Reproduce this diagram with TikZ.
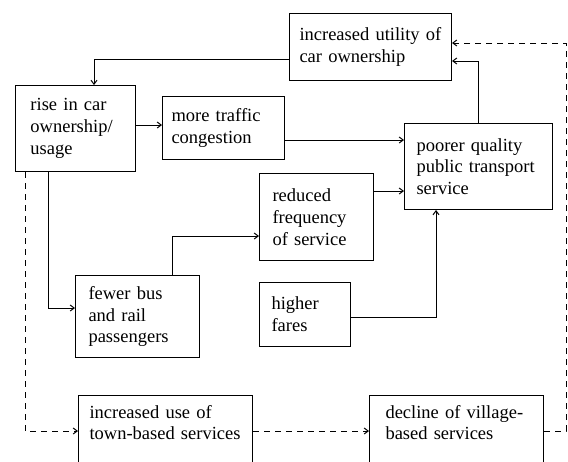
\documentclass[tikz,border=0pt]{standalone}
\usepackage{fontspec}
\setmainfont{Liberation Serif}
\usetikzlibrary{arrows.meta}

\begin{document}
\begin{tikzpicture}[x=1pt, y=-1pt,
  box/.style={draw, line width=1pt, rectangle, anchor=north west, align=left,
    inner ysep=0pt, font=\fontsize{18.5}{21.7}\selectfont},
  link/.style={-{Straight Barb[length=4pt,width=6pt]}, line width=1pt},
  weak/.style={link, dash pattern=on 6pt off 5pt}]
\useasboundingbox (0,0) rectangle (568,461);
\clip (0,0) rectangle (568,461);

% boxes: width = text width + 2 * inner xsep
\node[box, inner xsep=10, text width=142, minimum height=67] (util) at (289,13)
  {increased utility of\\car ownership};
\node[box, inner xsep=15, text width=90, minimum height=86] (rise) at (15,85)
  {rise in car\\ownership/\\usage};
\node[box, inner xsep=9, text width=104, minimum height=63] (traffic) at (162,96)
  {more traffic\\congestion};
\node[box, inner xsep=12, text width=124, minimum height=86] (poorer) at (404,123)
  {poorer quality\\public transport\\service};
\node[box, inner xsep=13, text width=88, minimum height=87] (reduced) at (259,173)
  {reduced\\frequency\\of service};
\node[box, inner xsep=12, text width=67, minimum height=64] (fares) at (259,282)
  {higher\\fares};
\node[box, inner xsep=13, text width=98, minimum height=82] (fewer) at (75,275)
  {fewer bus\\and rail\\passengers};
\node[box, inner xsep=11, text width=152, minimum height=82] (use) at (78,395)
  {increased use of\\town-based services\\\strut};
\node[box, inner xsep=16, text width=142, minimum height=82] (decline) at (369,395)
  {decline of village-\\based services\\\strut};

% solid links
\draw[link] (util.west |- 0,59) -| (rise.north -| 94,0);
\draw[link] (rise.east |- 0,125) -- (traffic.west |- 0,125);
\draw[link] (traffic.east |- 0,140) -- (poorer.west |- 0,140);
\draw[link] (reduced.east |- 0,191) -- (poorer.west |- 0,191);
\draw[link] (fares.east |- 0,317) -| (poorer.south -| 436,0);
\draw[link] (poorer.north -| 478,0) |- (util.east |- 0,61);
\draw[link] (rise.south -| 48,0) |- (fewer.west |- 0,308);
\draw[link] (fewer.north -| 172,0) |- (reduced.west |- 0,236);

% dashed links
\draw[weak] (rise.south -| 25,0) |- (use.west |- 0,431);
\draw[weak] (use.east |- 0,431) -- (decline.west |- 0,431);
\draw[weak] (decline.east |- 0,431) -- (566,431) |- (util.east |- 0,43);
\end{tikzpicture}
\end{document}
